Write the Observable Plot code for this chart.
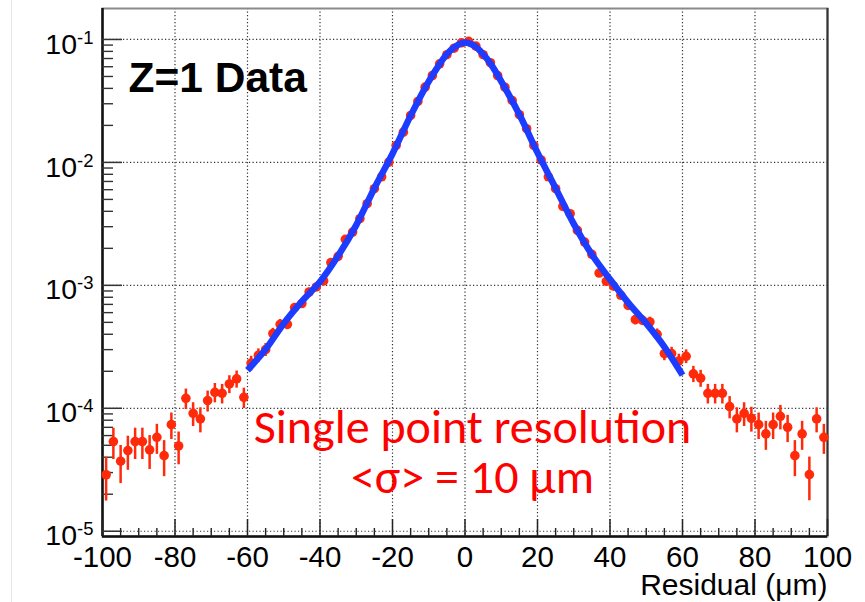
<!DOCTYPE html>
<html><head><meta charset="utf-8">
<script src="https://cdn.jsdelivr.net/npm/d3@7"></script>
<script src="https://cdn.jsdelivr.net/npm/@observablehq/plot@0.6"></script>
<style>
html,body{margin:0;padding:0;background:#fff;overflow:hidden;}
#wrap{position:relative;width:865px;height:602px;}
#edge{position:absolute;left:11px;top:0;width:1px;height:602px;background:#e4e4e4;}
#chart{position:absolute;left:0;top:0;}
</style></head>
<body><div id="wrap"><div id="edge"></div><div id="chart"></div></div>
<script>
// Bin centres of the residual histogram (µm)
const residual = [
  -99,-97,-95,-93,-91,-89,-87,-85,-83,-81,
  -79,-77,-75,-73,-71,-69,-67,-65,-63,-61,
  -59,-57,-55,-53,-51,-49,-47,-45,-43,-41,
  -39,-37,-35,-33,-31,-29,-27,-25,-23,-21,
  -19,-17,-15,-13,-11,-9,-7,-5,-3,-1,
  1,3,5,7,9,11,13,15,17,19,
  21,23,25,27,29,31,33,35,37,39,
  41,43,45,47,49,51,53,55,57,59,
  61,63,65,67,69,71,73,75,77,79,
  81,83,85,87,89,91,93,95,97,99
];
// Normalised entries per bin
const density = [
  2.88e-5,5.36e-5,3.71e-5,4.53e-5,5.36e-5,5.36e-5,4.59e-5,5.81e-5,4.12e-5,7.36e-5,
  4.94e-5,1.205e-4,9.1e-5,8.2e-5,1.156e-4,1.349e-4,1.324e-4,1.578e-4,1.734e-4,1.227e-4,
  2.33e-4,2.70e-4,3.00e-4,4.05e-4,4.82e-4,4.82e-4,6.59e-4,7.11e-4,8.83e-4,9.70e-4,
  1.086e-3,1.531e-3,1.722e-3,2.366e-3,2.71e-3,3.483e-3,4.613e-3,6.109e-3,7.64e-3,1.005e-2,
  1.374e-2,1.762e-2,2.41e-2,3.133e-2,4.093e-2,5.093e-2,6.339e-2,7.516e-2,8.49e-2,9.40e-2,
  9.64e-2,8.83e-2,7.52e-2,6.47e-2,5.09e-2,4.09e-2,3.19e-2,2.443e-2,1.879e-2,1.374e-2,
  1.047e-2,7.64e-3,6.11e-3,4.385e-3,3.828e-3,2.799e-3,2.249e-3,1.786e-3,1.259e-3,1.079e-3,
  9.86e-4,8.30e-4,6.87e-4,5.26e-4,5.19e-4,5.04e-4,4.0e-4,2.786e-4,2.786e-4,2.427e-4,
  2.649e-4,1.905e-4,1.758e-4,1.324e-4,1.324e-4,1.324e-4,1.033e-4,8.2e-5,9.1e-5,8.3e-5,
  7.36e-5,6.19e-5,7.36e-5,8.61e-5,7.01e-5,4.12e-5,6.19e-5,2.89e-5,8.2e-5,5.81e-5
];
// Statistical error per bin
const densityErr = [
  1.12e-5,1.53e-5,1.27e-5,1.40e-5,1.53e-5,1.53e-5,1.41e-5,1.59e-5,1.34e-5,1.79e-5,
  1.47e-5,2.29e-5,1.99e-5,1.89e-5,2.24e-5,2.42e-5,2.40e-5,2.62e-5,2.75e-5,2.31e-5,
  3.18e-5,3.43e-5,3.61e-5,4.20e-5,4.58e-5,4.58e-5,5.35e-5,5.56e-5,6.20e-5,6.50e-5,
  6.87e-5,8.16e-5,8.65e-5,1.01e-4,1.09e-4,1.23e-4,1.42e-4,1.63e-4,1.82e-4,2.09e-4,
  2.44e-4,2.77e-4,3.24e-4,3.69e-4,4.22e-4,4.71e-4,5.25e-4,5.72e-4,6.08e-4,6.39e-4,
  6.48e-4,6.20e-4,5.72e-4,5.31e-4,4.71e-4,4.22e-4,3.73e-4,3.26e-4,2.86e-4,2.44e-4,
  2.13e-4,1.82e-4,1.63e-4,1.38e-4,1.29e-4,1.10e-4,9.9e-5,8.8e-5,7.4e-5,6.85e-5,
  6.55e-5,6.01e-5,5.47e-5,4.78e-5,4.75e-5,4.68e-5,4.17e-5,3.48e-5,3.48e-5,3.25e-5,
  3.39e-5,2.88e-5,2.77e-5,2.40e-5,2.40e-5,2.40e-5,2.12e-5,1.89e-5,1.99e-5,1.90e-5,
  1.79e-5,1.64e-5,1.79e-5,1.94e-5,1.75e-5,1.34e-5,1.64e-5,1.12e-5,1.89e-5,1.59e-5
];
// Fit curve
const fitX = [-60,-55,-50,-45,-40,-35,-30,-25,-20,-15,-10,-7,-5,-3,-1,0,1,3,5,7,10,15,20,25,30,35,40,45,50,55,60];
const fitY = [2.04e-4,3.02e-4,4.90e-4,7.41e-4,1.07e-3,1.74e-3,3.09e-3,6.17e-3,1.175e-2,2.40e-2,4.57e-2,6.31e-2,7.59e-2,8.61e-2,9.33e-2,9.46e-2,9.33e-2,8.71e-2,7.59e-2,6.38e-2,4.57e-2,2.45e-2,1.20e-2,6.17e-3,3.16e-3,1.78e-3,1.12e-3,7.24e-4,4.90e-4,3.16e-4,1.86e-4];

// Axes
const xDomain = [-100, 100];
const yDomain = [9.06e-6, 0.1786];
const xMajor = [-100,-80,-60,-40,-20,0,20,40,60,80,100];
const xMinor = [-95,-90,-85,-75,-70,-65,-55,-50,-45,-35,-30,-25,-15,-10,-5,5,10,15,25,30,35,45,50,55,65,70,75,85,90,95];
const xGrid = [-80,-60,-40,-20,0,20,40,60,80];
const yMajor = [1e-5,1e-4,1e-3,1e-2,1e-1];
const yMinor = [
  2e-5,3e-5,4e-5,5e-5,6e-5,7e-5,8e-5,9e-5,
  2e-4,3e-4,4e-4,5e-4,6e-4,7e-4,8e-4,9e-4,
  2e-3,3e-3,4e-3,5e-3,6e-3,7e-3,8e-3,9e-3,
  2e-2,3e-2,4e-2,5e-2,6e-2,7e-2,8e-2,9e-2
];
const xTitle = "Residual (\u03bcm)";
const tag = "Z=1 Data";
const note1 = "Single point resolution";
const note2 = "<\u03c3> = 10 \u03bcm";

const points = residual.map((x, i) => ({x, y: density[i], e: densityErr[i]}));
const fit = fitX.map((x, i) => ({x, y: fitY[i]}));

const RED = "#ff2a0a";
const BLUE = "#1d3cff";
const gridStyle = {stroke: "#333", strokeOpacity: 1, strokeWidth: 1.2, strokeDasharray: "1.2,2.3"};

const plot = Plot.plot({
  width: 865, height: 602,
  marginLeft: 102, marginRight: 38, marginTop: 8, marginBottom: 66,
  style: {background: "transparent", fontFamily: "'Liberation Sans', Arial, Helvetica, sans-serif", overflow: "visible", color: "#000"},
  x: {domain: xDomain},
  y: {type: "log", domain: yDomain},
  marks: [
    Plot.gridX(xGrid, gridStyle),
    Plot.gridY(yMajor, gridStyle),
    Plot.frame({stroke: "#8a8a8a", strokeWidth: 2}),
    Plot.ruleX([xDomain[1]], {stroke: "#333", strokeWidth: 2}),
    Plot.ruleX([xDomain[0]], {stroke: "#111", strokeWidth: 2.5}),
    Plot.ruleY([yDomain[0]], {stroke: "#111", strokeWidth: 2.5}),
    Plot.axisX(xMinor, {tickSize: -8, tickFormat: () => "", label: null, stroke: "#222", strokeWidth: 1.4}),
    Plot.axisX(xMajor, {tickSize: -17, tickFormat: () => "", label: null, stroke: "#222", strokeWidth: 1.5}),
    Plot.axisX(xMajor, {tickSize: 0, tickPadding: 10, fontSize: 29.5, tickFormat: d => String(d), label: null, fill: "#000"}),
    Plot.axisY(yMinor, {tickSize: -11, tickFormat: () => "", label: null, stroke: "#333", strokeWidth: 1.4}),
    Plot.axisY(yMajor, {tickSize: -20, tickFormat: () => "", label: null, stroke: "#333", strokeWidth: 1.5}),
    Plot.axisY(yMajor, {tickSize: 0, tickPadding: 9, dy: 5, fontSize: 28.5, tickFormat: d => "10^" + Math.round(Math.log10(d)), label: null, fill: "#000"}),
    Plot.ruleX(points, {x: "x", y1: d => d.y - d.e, y2: d => d.y + d.e, stroke: RED, strokeWidth: 2.5}),
    Plot.dot(points, {x: "x", y: "y", r: 4.8, fill: RED, stroke: "none"}),
    Plot.line(fit, {x: "x", y: "y", stroke: BLUE, strokeWidth: 6.5, curve: "catmull-rom", strokeLinecap: "butt"}),
    Plot.text([tag], {text: d => d, frameAnchor: "top-left", dx: 26, dy: 83, lineAnchor: "bottom", textAnchor: "start", fontSize: 42.5, fontWeight: "bold", fill: "#000"}),
    Plot.text([note1], {text: d => d, frameAnchor: "top-left", dx: 370, dy: 434, lineAnchor: "bottom", textAnchor: "middle", fontSize: 48, fill: "#ff0000", fontFamily: "Carlito, Lato, 'Open Sans', sans-serif"}),
    Plot.text([note2], {text: d => d, frameAnchor: "top-left", dx: 370, dy: 484, lineAnchor: "bottom", textAnchor: "middle", fontSize: 48, fill: "#ff0000", fontFamily: "Carlito, Lato, 'Open Sans', sans-serif"}),
    Plot.text([xTitle], {text: d => d, frameAnchor: "bottom-right", dy: 58, lineAnchor: "bottom", textAnchor: "end", fontSize: 30, fill: "#000"})
  ]
});

d3.select(plot).selectAll("text").each(function() {
  const s = this.textContent;
  if (!s || !s.startsWith("10^")) return;
  const exp = s.slice(3);
  const t = d3.select(this);
  t.text("10");
  t.append("tspan").attr("dy", -10).attr("font-size", 18.5).text(exp);
});

document.getElementById("chart").append(plot);
</script>
</body></html>
